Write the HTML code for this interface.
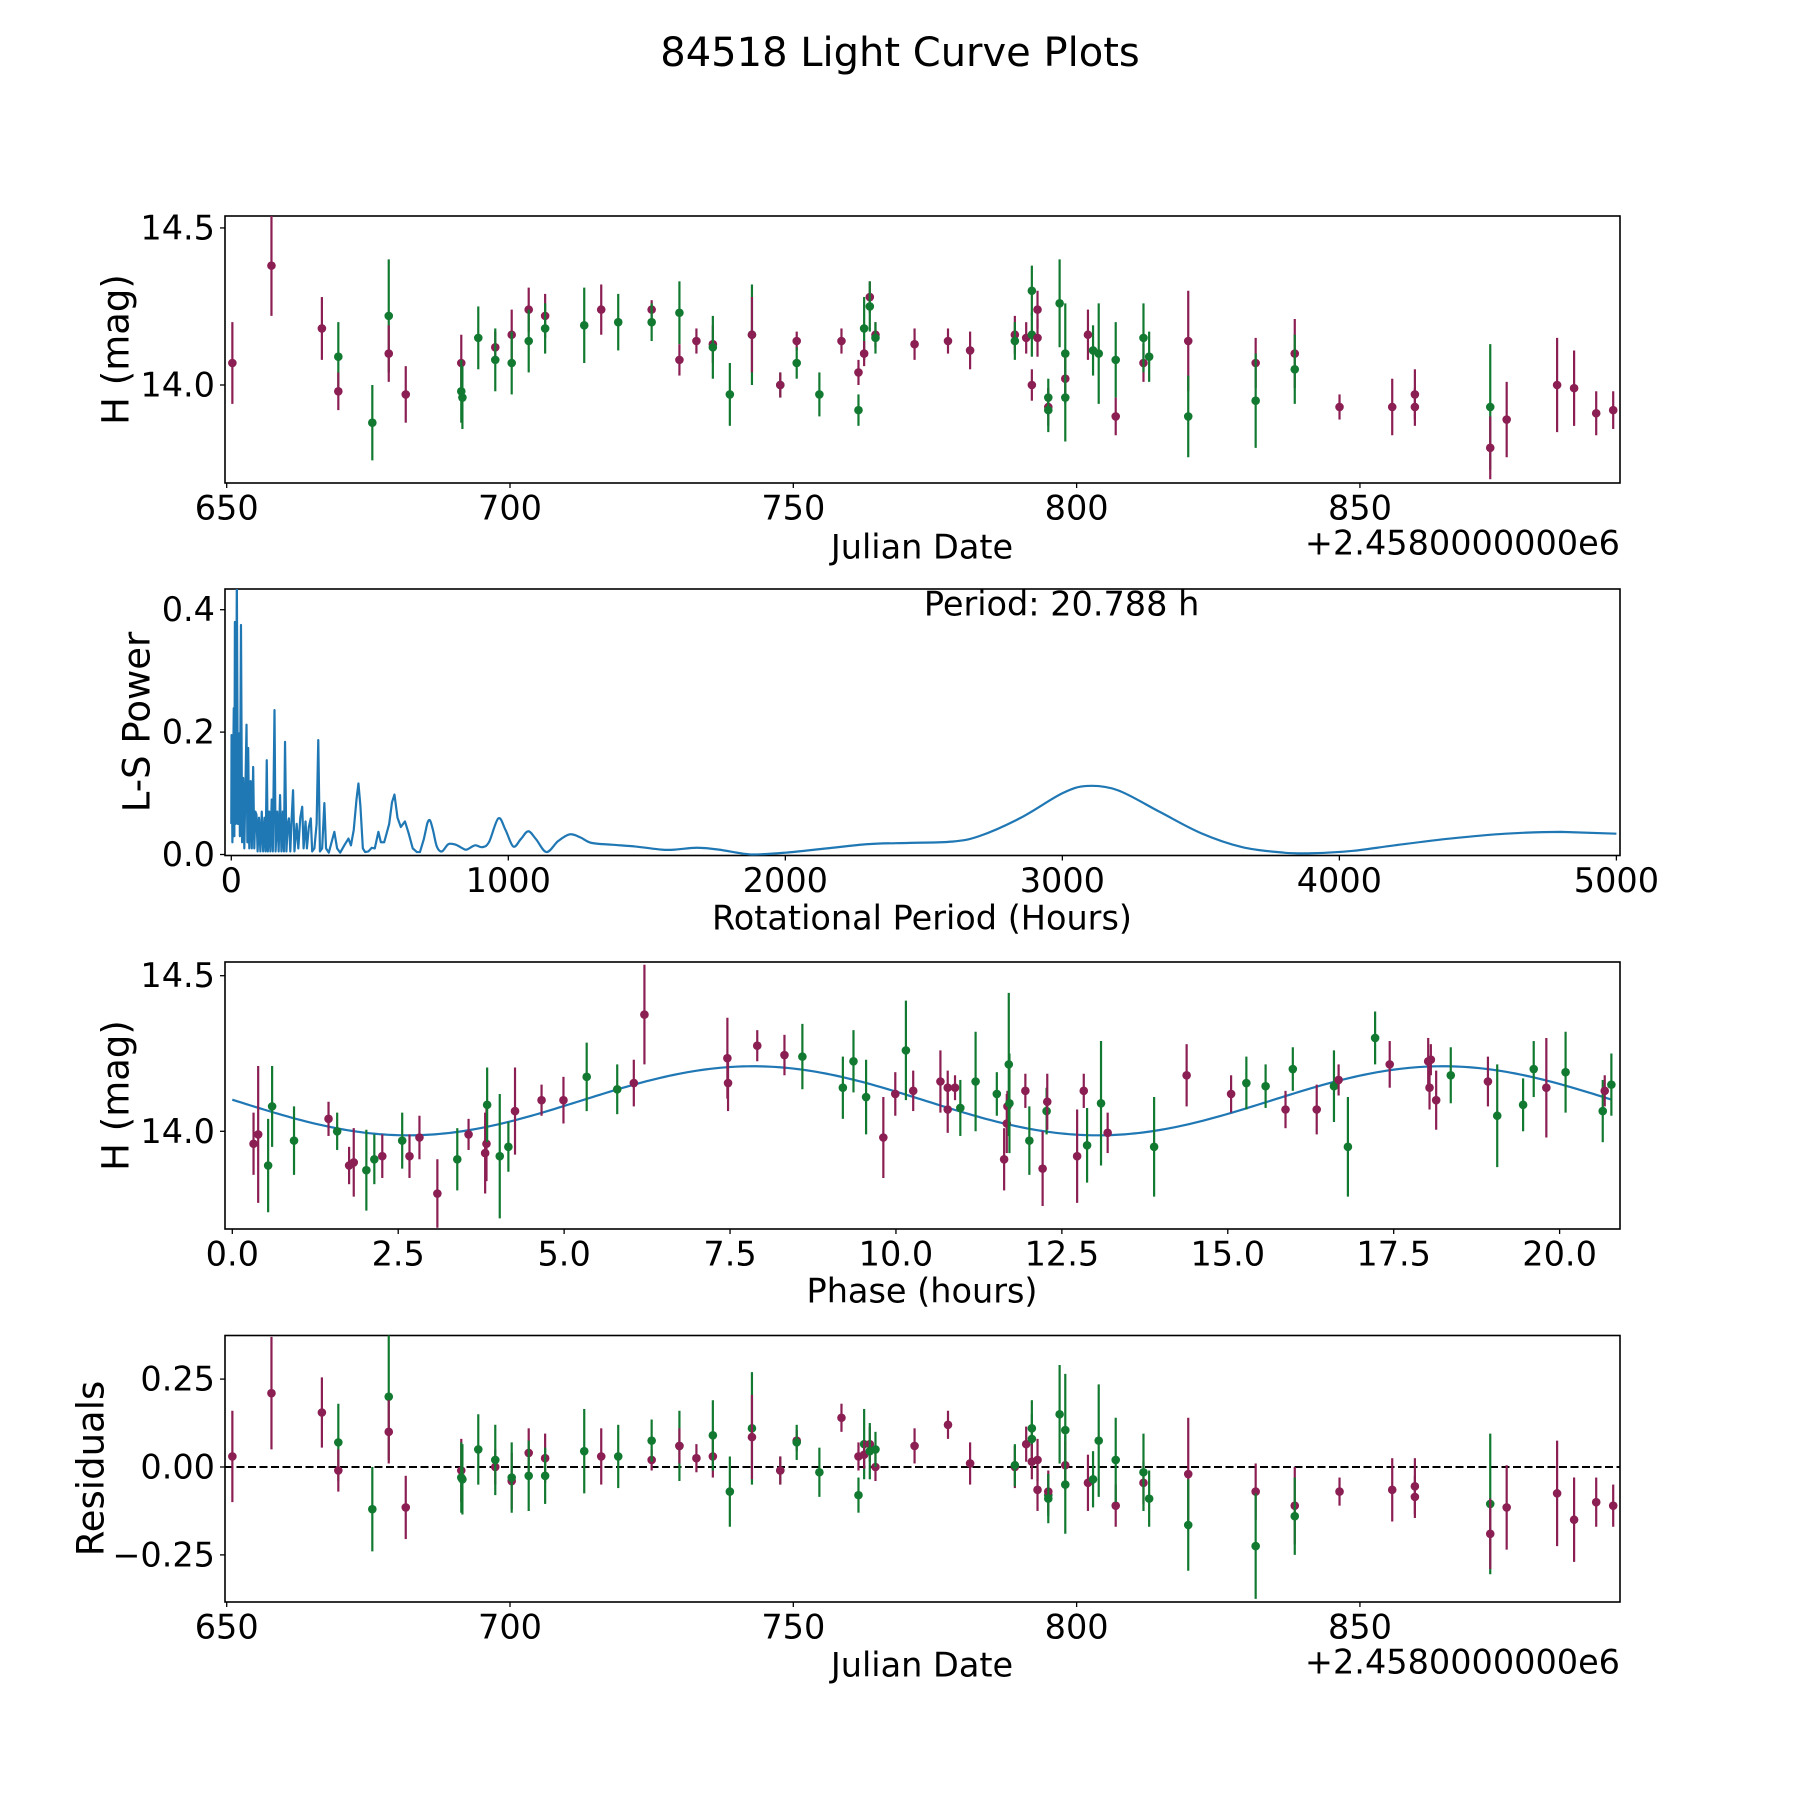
<!DOCTYPE html>
<html>
<head>
<meta charset="utf-8">
<style>
html,body{margin:0;padding:0;background:#fff;}
svg{display:block;}
text{font-family:"DejaVu Sans","Liberation Sans",sans-serif;fill:#000;}
</style>
</head>
<body>
<svg id="fig" width="1800" height="1800" viewBox="0 0 1800 1800" xmlns="http://www.w3.org/2000/svg">
<rect width="1800" height="1800" fill="#fff"/>
<text x="900" y="66" font-size="40" text-anchor="middle">84518 Light Curve Plots</text>
<defs>
<clipPath id="c1"><rect x="225" y="216" width="1395" height="267"/></clipPath>
<clipPath id="c2"><rect x="225" y="589" width="1395" height="267"/></clipPath>
<clipPath id="c3"><rect x="225" y="962" width="1395" height="267"/></clipPath>
<clipPath id="c4"><rect x="225" y="1335.5" width="1395" height="266.5"/></clipPath>
</defs>
<g id="layer"></g>
</svg>
<script>
// ---------- data: observations (Julian date offset, H mag, error, filter, residual) ----------
const obsDates = [651.0,657.9,666.8,669.7,669.7,675.7,678.6,678.6,681.6,691.4,691.4,691.6,694.4,697.4,697.4,700.3,700.3,703.3,703.3,706.2,706.2,713.1,716.1,719.1,725.0,725.0,729.9,729.9,732.9,735.8,735.8,738.8,742.7,742.7,747.7,747.7,750.6,750.6,754.6,758.5,761.5,761.5,762.5,762.5,763.5,763.5,764.5,764.5,771.4,777.3,781.2,789.1,789.1,791.1,792.1,792.1,792.1,793.1,793.1,795.0,795.0,795.0,797.0,798.0,798.0,798.0,802.0,802.9,803.9,806.9,806.9,811.8,811.8,812.8,819.7,819.7,831.6,831.6,838.5,838.5,846.4,855.7,859.7,859.7,873.0,873.0,875.9,884.8,887.8,891.7,894.7];
const obsMags = [14.07,14.38,14.18,14.09,13.98,13.88,14.22,14.10,13.97,14.07,13.98,13.96,14.15,14.12,14.08,14.16,14.07,14.24,14.14,14.22,14.18,14.19,14.24,14.20,14.24,14.20,14.23,14.08,14.14,14.13,14.12,13.97,14.16,14.16,14.00,14.00,14.14,14.07,13.97,14.14,14.04,13.92,14.18,14.10,14.28,14.25,14.16,14.15,14.13,14.14,14.11,14.16,14.14,14.15,14.30,14.16,14.00,14.24,14.15,13.96,13.93,13.92,14.26,14.10,14.02,13.96,14.16,14.11,14.10,13.90,14.08,14.07,14.15,14.09,14.14,13.90,14.07,13.95,14.10,14.05,13.93,13.93,13.97,13.93,13.93,13.80,13.89,14.00,13.99,13.91,13.92];
const obsErrs = [0.13,0.16,0.10,0.11,0.06,0.12,0.18,0.09,0.09,0.09,0.10,0.10,0.10,0.05,0.10,0.08,0.10,0.07,0.10,0.07,0.08,0.12,0.08,0.09,0.03,0.06,0.10,0.05,0.04,0.06,0.10,0.10,0.16,0.12,0.04,0.04,0.03,0.05,0.07,0.04,0.04,0.05,0.10,0.04,0.05,0.08,0.04,0.05,0.05,0.04,0.06,0.06,0.06,0.05,0.08,0.07,0.05,0.06,0.06,0.06,0.06,0.07,0.14,0.16,0.07,0.14,0.08,0.08,0.16,0.06,0.12,0.06,0.11,0.08,0.16,0.13,0.08,0.15,0.11,0.11,0.04,0.09,0.08,0.06,0.20,0.10,0.12,0.15,0.12,0.07,0.06];
const obsFilter = ['m','m','m','g','m','g','g','m','m','m','g','g','g','m','g','m','g','m','g','m','g','g','m','g','m','g','g','m','m','m','g','g','g','m','g','m','m','g','g','m','m','g','g','m','m','g','m','g','m','m','m','m','g','m','g','g','m','m','m','g','m','g','g','g','m','g','m','g','g','m','g','m','g','g','m','g','m','g','m','g','m','m','m','m','g','m','m','m','m','m','m'];
const obsResid = [0.03,0.21,0.155,0.07,-0.01,-0.12,0.20,0.10,-0.115,-0.01,-0.03,-0.035,0.05,0.0,0.02,-0.04,-0.03,0.04,-0.025,0.025,-0.025,0.045,0.03,0.03,0.02,0.075,0.06,0.06,0.025,0.03,0.09,-0.07,0.11,0.085,-0.01,-0.01,0.075,0.07,-0.015,0.14,0.03,-0.08,0.065,0.035,0.065,0.045,0.0,0.05,0.06,0.12,0.01,0.0,0.005,0.065,0.11,0.08,0.015,0.02,-0.065,-0.08,-0.07,-0.09,0.15,0.105,0.005,-0.05,-0.045,-0.035,0.075,-0.11,0.02,-0.045,-0.015,-0.09,-0.02,-0.165,-0.07,-0.225,-0.11,-0.14,-0.07,-0.065,-0.055,-0.085,-0.105,-0.19,-0.115,-0.075,-0.15,-0.10,-0.11];

// ---------- data: phased light curve ----------
const phaseHours = [0.32,0.39,0.54,0.60,0.93,1.45,1.58,1.76,1.83,2.02,2.14,2.26,2.56,2.67,2.82,3.09,3.39,3.56,3.81,3.83,3.84,4.03,4.16,4.26,4.66,4.99,5.34,5.80,6.05,6.21,7.46,7.47,7.91,8.32,8.59,9.20,9.36,9.55,9.81,9.99,10.15,10.26,10.67,10.78,10.78,10.89,10.97,11.20,11.52,11.63,11.67,11.68,11.70,11.71,11.95,12.01,12.21,12.27,12.28,12.73,12.83,12.88,13.09,13.19,13.89,14.38,15.05,15.28,15.57,15.87,15.98,16.34,16.60,16.67,16.81,17.22,17.44,18.02,18.06,18.04,18.14,18.36,18.92,19.06,19.45,19.61,19.80,20.09,20.65,20.68,20.78];
const phaseMags = [13.96,13.99,13.89,14.08,13.97,14.04,14.00,13.89,13.90,13.875,13.91,13.92,13.97,13.92,13.98,13.80,13.91,13.99,13.93,13.96,14.085,13.92,13.95,14.065,14.10,14.10,14.175,14.135,14.155,14.375,14.235,14.155,14.275,14.245,14.24,14.14,14.225,14.11,13.98,14.12,14.26,14.13,14.16,14.14,14.07,14.14,14.075,14.16,14.12,13.91,14.025,14.08,14.215,14.09,14.13,13.97,13.88,14.065,14.095,13.92,14.13,13.955,14.09,13.995,13.95,14.18,14.12,14.155,14.145,14.07,14.20,14.07,14.145,14.165,13.95,14.30,14.215,14.225,14.23,14.14,14.10,14.18,14.16,14.05,14.085,14.20,14.14,14.19,14.065,14.13,14.15];
const phaseErrs = [0.10,0.22,0.15,0.13,0.11,0.055,0.06,0.06,0.11,0.13,0.08,0.07,0.09,0.07,0.07,0.11,0.10,0.05,0.13,0.12,0.12,0.20,0.08,0.14,0.05,0.075,0.11,0.08,0.075,0.16,0.13,0.09,0.05,0.065,0.105,0.10,0.10,0.12,0.13,0.07,0.16,0.065,0.10,0.055,0.075,0.04,0.09,0.16,0.07,0.10,0.095,0.05,0.23,0.16,0.055,0.11,0.12,0.075,0.09,0.15,0.055,0.12,0.20,0.065,0.16,0.10,0.06,0.085,0.07,0.06,0.07,0.08,0.115,0.05,0.16,0.085,0.075,0.075,0.05,0.07,0.095,0.09,0.08,0.165,0.085,0.09,0.16,0.13,0.10,0.05,0.10];
const phaseFilter = ['m','m','g','g','g','m','g','m','m','g','g','m','g','m','m','m','g','m','m','m','g','g','g','m','m','m','g','g','m','m','m','m','m','m','g','g','g','g','m','m','g','m','m','m','m','m','g','g','g','m','m','m','g','g','m','g','m','g','m','m','m','g','g','m','g','m','m','g','g','m','g','m','g','m','g','g','m','m','m','m','m','g','m','g','g','g','m','g','g','m','g'];
// fitted model parameters (mean, amplitude, half rotation period hours, minimum phase)
const fitParams = [14.098, 0.111, 10.394, 2.65];
const fitPeriodHours = [20.788];

// ---------- data: Lomb-Scargle periodogram ----------
const lsPeriods = [0,1,4,9,11,13,16,20,24,28,31,35,39,43,47,51,55,58,61,65,70,74,79,83,87,91,95,100,105,110,115,120,124,128,132,137,141,146,150,156,160,166,171,176,181,186,190,194,199,204,208,213,218,223,228,236,242,249,256,261,268,273,280,287,292,300,308,314,320,328,336,342,352,362,372,382,393,408,423,432,442,452,459,466,475,483,495,507,518,531,540,552,570,580,589,600,612,627,640,655,670,681,695,707,717,728,742,760,784,810,835,850,880,905,930,964,990,1018,1045,1072,1100,1138,1180,1222,1260,1300,1373,1460,1553,1602,1680,1760,1880,2000,2150,2300,2450,2600,2700,2850,3000,3090,3200,3350,3500,3650,3800,3900,4050,4200,4400,4600,4800,5000];
const lsPowers = [0.05,0.195,0.02,0.239,0.03,0.38,0.05,0.45,0.05,0.198,0.03,0.375,0.02,0.125,0.01,0.11,0.212,0.02,0.174,0.01,0.12,0.01,0.143,0.01,0.07,0.065,0.005,0.06,0.005,0.07,0.005,0.06,0.005,0.154,0.005,0.07,0.005,0.09,0.005,0.236,0.005,0.07,0.005,0.097,0.005,0.07,0.005,0.184,0.005,0.05,0.059,0.005,0.06,0.105,0.005,0.05,0.01,0.06,0.078,0.01,0.054,0.01,0.045,0.059,0.005,0.01,0.05,0.187,0.005,0.01,0.084,0.01,0.003,0.02,0.037,0.01,0.003,0.015,0.026,0.015,0.04,0.09,0.116,0.08,0.01,0.004,0.005,0.011,0.01,0.037,0.02,0.02,0.05,0.085,0.098,0.06,0.045,0.054,0.035,0.01,0.004,0.004,0.025,0.05,0.056,0.04,0.013,0.005,0.017,0.016,0.01,0.008,0.015,0.012,0.02,0.059,0.04,0.013,0.025,0.038,0.025,0.004,0.022,0.033,0.028,0.019,0.016,0.013,0.008,0.008,0.011,0.008,0.0,0.003,0.01,0.017,0.019,0.021,0.03,0.06,0.1,0.112,0.105,0.07,0.035,0.012,0.003,0.002,0.006,0.015,0.026,0.034,0.037,0.034];

// ---------- tick labels ----------
const jdTicks = [650,700,750,800,850];
const magTicks = [14.0,14.5];
const lsXTicks = [0,1000,2000,3000,4000,5000];
const lsYTicks = [0.0,0.2,0.4];
const phaseXTicks = [0,2.5,5,7.5,10,12.5,15,17.5,20];
const residTicks = [-0.25,0,0.25];

// ---------- layout ----------
const NS='http://www.w3.org/2000/svg';
const layer=document.getElementById('layer');
const COLORS={m:'#8b1e52',g:'#127a30'};
const L=225,R=1620;
const TF=33.5, LF=37;
function lin(d0,d1,p0,p1){return v=>p0+(v-d0)*(p1-p0)/(d1-d0);}
const P1={top:216,bot:483,x:lin(649.7,895.9,L,R),y:lin(13.688,14.538,483,216),clip:'c1'};
const P2={top:589,bot:855.5,x:lin(-22.7,5013,L,R),y:lin(0,0.4,854.5,609.7),clip:'c2'};
const P3={top:962,bot:1229,x:lin(-0.11,20.91,L,R),y:lin(13.686,14.545,1229,961.7),clip:'c3'};
const P4={top:1335.5,bot:1602,x:lin(649.7,895.9,L,R),y:lin(-0.384,0.374,1602,1335.5),clip:'c4'};

function mk(tag,attrs,parent){const e=document.createElementNS(NS,tag);for(const k in attrs)e.setAttribute(k,attrs[k]);(parent||layer).appendChild(e);return e;}
function txt(s,x,y,size,anchor,name,rot){const t=mk('text',{x:x,y:y,'font-size':size,'text-anchor':anchor||'middle','dominant-baseline':'central'});t.textContent=s;if(rot)t.setAttribute('transform','rotate(-90 '+x+' '+y+')');


return t;}

function frame(P,name){
  const r=mk('rect',{x:L,y:P.top,width:R-L,height:P.bot-P.top,fill:'none',stroke:'#000','stroke-width':1.6});
  
  
}
function xticks(P,vals,fmt,name){
  vals.forEach(v=>{const x=P.x(v);
    const l=mk('line',{x1:x,x2:x,y1:P.bot,y2:P.bot+5,stroke:'#000','stroke-width':1.3});
    
    
    txt(fmt(v),x,P.bot+25,TF,'middle',name+'-tick-label');});
}
function yticks(P,vals,fmt,name){
  vals.forEach(v=>{const y=P.y(v);
    const l=mk('line',{x1:L-5,x2:L,y1:y,y2:y,stroke:'#000','stroke-width':1.3});
    
    
    txt(fmt(v),L-10,y,TF,'end',name+'-tick-label');});
}
function errpoints(P,xs,ys,es,cs,name){
  const g=mk('g',{'clip-path':'url(#'+P.clip+')'});
  
  
  for(let i=0;i<xs.length;i++){
    const x=P.x(xs[i]),col=COLORS[cs[i]];
    const b=mk('line',{x1:x,x2:x,y1:P.y(ys[i]-es[i]),y2:P.y(ys[i]+es[i]),stroke:col,'stroke-width':2.2},g);
    
    
    const c=mk('circle',{cx:x,cy:P.y(ys[i]),r:4.3,fill:col},g);
    
    
  }
}
const f1=v=>v.toFixed(1), f0=v=>String(v), f2=v=>(v<0?'\u2212':'')+Math.abs(v).toFixed(2);

// Panel 1
frame(P1,'light-curve');
errpoints(P1,obsDates,obsMags,obsErrs,obsFilter,'light-curve');
xticks(P1,jdTicks,f0,'jd-x');
yticks(P1,magTicks,f1,'mag-y');
txt('Julian Date',922,547,TF,'middle','light-curve-x-axis-title');
txt('+2.4580000000e6',1620,543,TF,'end','light-curve-x-offset');
txt('H (mag)',116,349.5,LF,'middle','light-curve-y-axis-title',true);

// Panel 2: periodogram (smoothed with Catmull-Rom beyond the dense region)
frame(P2,'periodogram');
(function(){
  const pts=lsPeriods.map((p,i)=>[P2.x(p),P2.y(lsPowers[i])]);
  let d='M'+pts[0][0].toFixed(2)+' '+pts[0][1].toFixed(2);
  for(let i=1;i<pts.length;i++){
    if(lsPeriods[i-1]>=700 && i>=2 && i<pts.length-1){
      const p0=pts[i-2],p1=pts[i-1],p2=pts[i],p3=pts[i+1];
      let c1y=p1[1]+(p2[1]-p0[1])/6, c2y=p2[1]-(p3[1]-p1[1])/6;
      const base=P2.y(0);
      c1y=Math.min(c1y,base); c2y=Math.min(c2y,base);
      d+='C'+(p1[0]+(p2[0]-p0[0])/6).toFixed(2)+' '+c1y.toFixed(2)+' '+(p2[0]-(p3[0]-p1[0])/6).toFixed(2)+' '+c2y.toFixed(2)+' '+p2[0].toFixed(2)+' '+p2[1].toFixed(2);
    } else d+='L'+pts[i][0].toFixed(2)+' '+pts[i][1].toFixed(2);
  }
  const g=mk('g',{'clip-path':'url(#c2)'});
  
  
  const p=mk('path',{d:d,fill:'none',stroke:'#1f77b4','stroke-width':2.2,'stroke-linejoin':'round'},g);
  
  
})();
xticks(P2,lsXTicks,f0,'ls-x');
yticks(P2,lsYTicks,f1,'ls-y');
txt('Period: '+fitPeriodHours[0].toFixed(3)+' h',P2.x(2500),604,TF,'start','period-annotation');
txt('Rotational Period (Hours)',922,918,TF,'middle','periodogram-x-axis-title');
txt('L-S Power',137,722,LF,'middle','periodogram-y-axis-title',true);

// Panel 3
frame(P3,'phase');
(function(){
  let d='';const n=300;
  for(let i=0;i<=n;i++){const p=fitPeriodHours[0]*i/n;
    const v=fitParams[0]-fitParams[1]*Math.cos(2*Math.PI*(p-fitParams[3])/fitParams[2]);
    d+=(i?'L':'M')+P3.x(p).toFixed(2)+' '+P3.y(v).toFixed(2);}
  const p=mk('path',{d:d,fill:'none',stroke:'#1f77b4','stroke-width':2.2});
  
  
})();
errpoints(P3,phaseHours,phaseMags,phaseErrs,phaseFilter,'phase');
xticks(P3,phaseXTicks,f1,'phase-x');
yticks(P3,magTicks,f1,'phase-y');
txt('Phase (hours)',922,1291,TF,'middle','phase-x-axis-title');
txt('H (mag)',116,1095.5,LF,'middle','phase-y-axis-title',true);

// Panel 4
frame(P4,'residuals');
(function(){
  const l=mk('line',{x1:L,x2:R,y1:P4.y(0),y2:P4.y(0),stroke:'#000','stroke-width':2,'stroke-dasharray':'8 3.5'});
  
  
})();
errpoints(P4,obsDates,obsResid,obsErrs,obsFilter,'residuals');
xticks(P4,jdTicks,f0,'resid-x');
yticks(P4,residTicks,f2,'resid-y');
txt('Julian Date',922,1665,TF,'middle','residuals-x-axis-title');
txt('+2.4580000000e6',1620,1662,TF,'end','residuals-x-offset');
txt('Residuals',91,1468.5,LF,'middle','residuals-y-axis-title',true);
</script>
</body>
</html>
